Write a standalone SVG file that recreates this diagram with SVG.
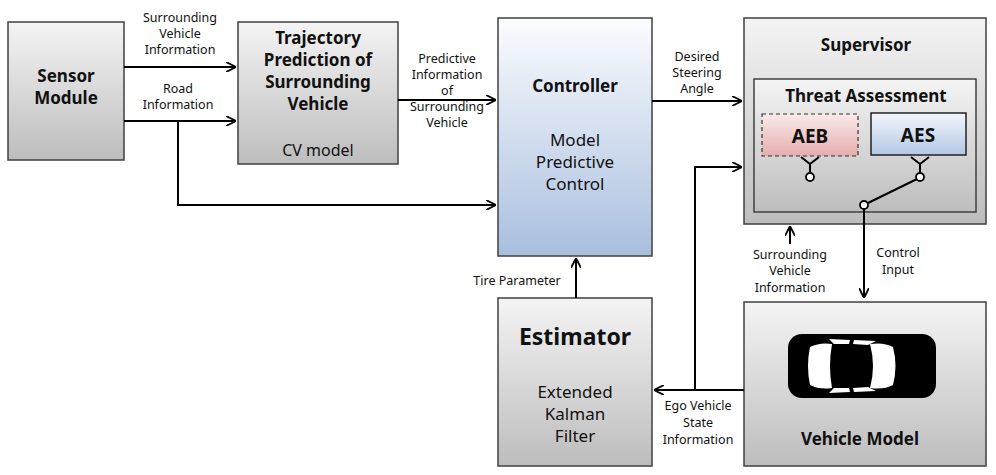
<svg xmlns="http://www.w3.org/2000/svg" width="996" height="475" viewBox="0 0 996 475">
<defs>
<linearGradient id="g" x1="0" y1="0" x2="0" y2="1"><stop offset="0" stop-color="#f4f4f4"/><stop offset="1" stop-color="#bdbdbd"/></linearGradient>
<linearGradient id="b" x1="0" y1="0" x2="0" y2="1"><stop offset="0" stop-color="#fbfcfe"/><stop offset="1" stop-color="#a9bfdf"/></linearGradient>
<linearGradient id="r" x1="0" y1="0" x2="0" y2="1"><stop offset="0" stop-color="#fbeaea"/><stop offset="1" stop-color="#e4adad"/></linearGradient>
<linearGradient id="s" x1="0" y1="0" x2="0" y2="1"><stop offset="0" stop-color="#f3f6fb"/><stop offset="1" stop-color="#b3c7e4"/></linearGradient>
<marker id="a" viewBox="0 0 10 10" refX="10" refY="5" markerWidth="10" markerHeight="10" markerUnits="userSpaceOnUse" orient="auto"><path d="M0,0 L10,5 L0,10" fill="none" stroke="#000" stroke-width="1.8"/></marker>
</defs>
<style>
.box{stroke:#404040;stroke-width:1.5}
.t{font-family:"Noto Sans","Liberation Sans",sans-serif;fill:#111;text-anchor:middle}
.bold{font-weight:bold}
.sm{font-size:12.5px}
.ln{fill:none;stroke:#000;stroke-width:2}
</style>
<g id="sensor"><rect class="box" x="8" y="22" width="116" height="138" fill="url(#g)"/>
<text class="t bold" font-size="17" x="66" y="82">Sensor</text><text class="t bold" font-size="17" x="66" y="104">Module</text></g>
<g id="trajectory"><rect class="box" x="238" y="22" width="160" height="142" fill="url(#g)"/>
<text class="t bold" font-size="17" x="318" y="44">Trajectory</text><text class="t bold" font-size="17" x="318" y="66">Prediction of</text><text class="t bold" font-size="17" x="318" y="88">Surrounding</text><text class="t bold" font-size="17" x="318" y="110">Vehicle</text>
<text class="t" font-size="16" x="318" y="156">CV model</text></g>
<g id="controller"><rect class="box" x="498" y="18" width="154" height="238" fill="url(#b)"/>
<text class="t bold" font-size="17" x="575" y="92">Controller</text>
<text class="t" font-size="17" x="575" y="146">Model</text><text class="t" font-size="17" x="575" y="168">Predictive</text><text class="t" font-size="17" x="575" y="190">Control</text></g>
<g id="supervisor"><rect class="box" x="744" y="18" width="242" height="206" fill="url(#g)"/>
<text class="t bold" font-size="17" x="866" y="51">Supervisor</text>
<rect class="box" x="754" y="79" width="222" height="133" fill="url(#g)"/>
<text class="t bold" font-size="17" x="866" y="102">Threat Assessment</text></g>
<g id="aeb"><rect x="762" y="114" width="96" height="42" fill="url(#r)" stroke="#333" stroke-width="1.2" stroke-dasharray="4,3"/>
<text class="t bold" font-size="19" x="810" y="143">AEB</text>
<path class="ln" stroke-width="1.8" d="M801,157 L810,164 L819,157 M810,164 V173"/><circle cx="810" cy="177" r="4" fill="#fff" stroke="#000" stroke-width="1.8"/></g>
<g id="aes"><rect x="871" y="113" width="95" height="42" fill="url(#s)" stroke="#222" stroke-width="1.5"/>
<text class="t bold" font-size="19" x="918" y="142">AES</text>
<path class="ln" stroke-width="1.8" d="M911,157 L920,164 L929,157 M920,164 V173"/><circle cx="920" cy="177" r="4" fill="#fff" stroke="#000" stroke-width="1.8"/></g>
<g id="estimator"><rect class="box" x="498" y="298" width="154" height="168" fill="url(#g)"/>
<text class="t bold" font-size="23" x="575" y="345">Estimator</text>
<text class="t" font-size="17" x="575" y="398">Extended</text><text class="t" font-size="17" x="575" y="420">Kalman</text><text class="t" font-size="17" x="575" y="442">Filter</text></g>
<g id="vehicle"><rect class="box" x="744" y="302" width="242" height="164" fill="url(#g)"/>
<rect x="788" y="334" width="148" height="64" rx="14" fill="#000"/>
<path d="M810,347 Q820,342 832,344 Q828,366 832,388 Q820,390 810,385 Q806,366 810,347Z" fill="#fff"/>
<path d="M870,344 Q884,342 893,347 Q898,366 893,385 Q884,390 870,388 Q876,366 870,344Z" fill="#fff"/>
<path d="M829,339 L850,340 L849,344 L834,344Z M829,393 L850,392 L849,388 L834,388Z M854,340 L876,341 L868,345 L853,344Z M854,392 L876,391 L868,387 L853,388Z" fill="#fff"/>
<text class="t bold" font-size="17" x="860" y="445">Vehicle Model</text></g>
<g id="connectors">
<path class="ln" marker-end="url(#a)" d="M124,67 H236"/>
<path class="ln" marker-end="url(#a)" d="M124,121 H236"/>
<path class="ln" marker-end="url(#a)" d="M178,121 V205 H496"/>
<path class="ln" marker-end="url(#a)" d="M398,100 H496"/>
<path class="ln" marker-end="url(#a)" d="M652,101 H742"/>
<path class="ln" marker-end="url(#a)" d="M576,298 V258"/>
<path class="ln" marker-end="url(#a)" d="M744,390 H654"/>
<path class="ln" marker-end="url(#a)" d="M695,390 V167 H742"/>
<path class="ln" marker-end="url(#a)" d="M790,244 V226"/>
<path class="ln" stroke-width="1.8" d="M917,179 L868,203"/>
<circle cx="864" cy="205" r="4" fill="#fff" stroke="#000" stroke-width="1.8"/>
<path class="ln" marker-end="url(#a)" d="M864,209 V298"/>
<text class="t sm" x="180" y="22">Surrounding</text><text class="t sm" x="180" y="38">Vehicle</text><text class="t sm" x="180" y="54">Information</text>
<text class="t sm" x="178" y="93">Road</text><text class="t sm" x="178" y="109">Information</text>
<text class="t sm" x="447" y="63">Predictive</text><text class="t sm" x="447" y="79">Information</text><text class="t sm" x="447" y="95">of</text><text class="t sm" x="447" y="111">Surrounding</text><text class="t sm" x="447" y="127">Vehicle</text>
<text class="t sm" x="697" y="61">Desired</text><text class="t sm" x="697" y="77">Steering</text><text class="t sm" x="697" y="93">Angle</text>
<text class="t sm" x="517" y="285">Tire Parameter</text>
<text class="t sm" x="790" y="259">Surrounding</text><text class="t sm" x="790" y="275">Vehicle</text><text class="t sm" x="790" y="292">Information</text>
<text class="t sm" x="898" y="257">Control</text><text class="t sm" x="898" y="274">Input</text>
<text class="t sm" x="698" y="410">Ego Vehicle</text><text class="t sm" x="698" y="427">State</text><text class="t sm" x="698" y="444">Information</text>
</g>
</svg>
